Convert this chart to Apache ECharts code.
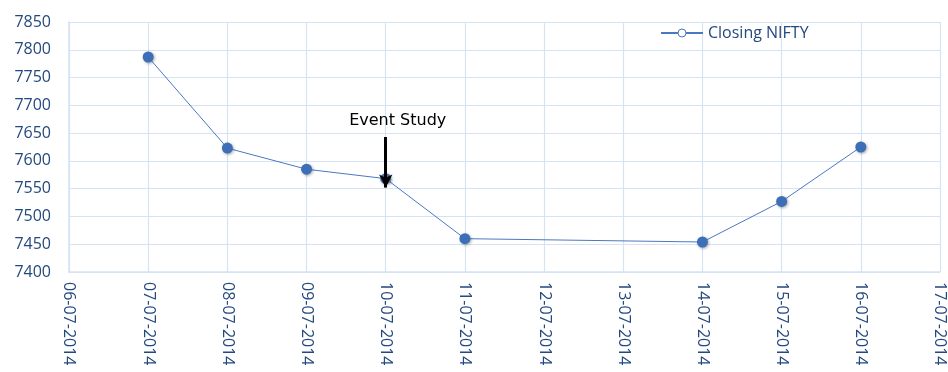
<!DOCTYPE html>
<html>
<head>
    <meta charset="utf-8">
    <title>Closing NIFTY</title>
    <script src="https://cdn.jsdelivr.net/npm/echarts@6/dist/echarts.min.js"></script>
    <style>
        html, body { margin: 0; padding: 0; background: #fff; }
        #main { width: 948px; height: 372px; }
    </style>
</head>
<body>
<div id="main"></div>
<script type="text/javascript">
    // dates on the x axis (one per day)
    var dates = ['06-07-2014', '07-07-2014', '08-07-2014', '09-07-2014', '10-07-2014', '11-07-2014',
        '12-07-2014', '13-07-2014', '14-07-2014', '15-07-2014', '16-07-2014', '17-07-2014'];
    // closing values, null = no trading that day
    var closing = [null, 7787, 7623, 7585, 7568, 7460, null, null, 7454, 7527, 7625, null];
    var eventDate = '10-07-2014';
    var eventLabel = 'Event Study';

    var axisText = '#24497e';
    var gridColor = '#d6e3f3';

    var myChart = echarts.init(document.getElementById('main'));

    var option = {
        animation: false,
        grid: {
            left: 69,
            right: 6,
            top: 22,
            bottom: 100,
            containLabel: false
        },
        legend: {
            top: 20,
            left: 655,
            itemWidth: 42,
            itemHeight: 10,
            itemGap: 2,
            textStyle: { color: axisText, fontFamily: 'Open Sans', fontSize: 16 },
            itemStyle: { color: '#fff', borderColor: '#4a78c2', borderWidth: 1 },
            data: ['Closing NIFTY']
        },
        xAxis: {
            type: 'category',
            data: dates,
            boundaryGap: false,
            axisLine: { lineStyle: { color: gridColor, width: 1.5 } },
            axisTick: { show: false },
            splitLine: { show: true, lineStyle: { color: gridColor, width: 1.2 } },
            axisLabel: {
                rotate: -90,
                interval: 0,
                margin: 10,
                color: axisText,
                fontFamily: 'Open Sans',
                fontSize: 16
            }
        },
        yAxis: {
            type: 'value',
            min: 7400,
            max: 7850,
            interval: 50,
            axisLine: { show: true, lineStyle: { color: gridColor, width: 1.5 } },
            axisTick: { show: false },
            splitLine: { lineStyle: { color: gridColor, width: 1.2 } },
            axisLabel: {
                margin: 18,
                color: axisText,
                fontFamily: 'Open Sans',
                fontSize: 16,
                formatter: function (v) { return String(v); }
            }
        },
        series: [{
            name: 'Closing NIFTY',
            type: 'line',
            data: closing,
            connectNulls: true,
            symbol: 'circle',
            symbolSize: 11,
            lineStyle: { color: '#4a78c2', width: 1 },
            itemStyle: {
                color: '#3d6fb8',
                shadowColor: 'rgba(0,0,0,0.35)',
                shadowBlur: 3,
                shadowOffsetX: 1,
                shadowOffsetY: 1
            },
            markLine: {
                silent: true,
                symbol: ['none', 'arrow'],
                symbolSize: [10, 13],
                lineStyle: { color: '#000', width: 3, type: 'solid' },
                label: {
                    show: true,
                    position: 'start',
                    formatter: eventLabel,
                    color: '#000',
                    fontFamily: 'DejaVu Sans',
                    fontSize: 16,
                    distance: 8,
                    offset: [12, 0]
                },
                data: [[
                    { coord: [eventDate, 7643] },
                    { coord: [eventDate, 7552] }
                ]]
            }
        }]
    };

    myChart.setOption(option);
</script>
</body>
</html>
